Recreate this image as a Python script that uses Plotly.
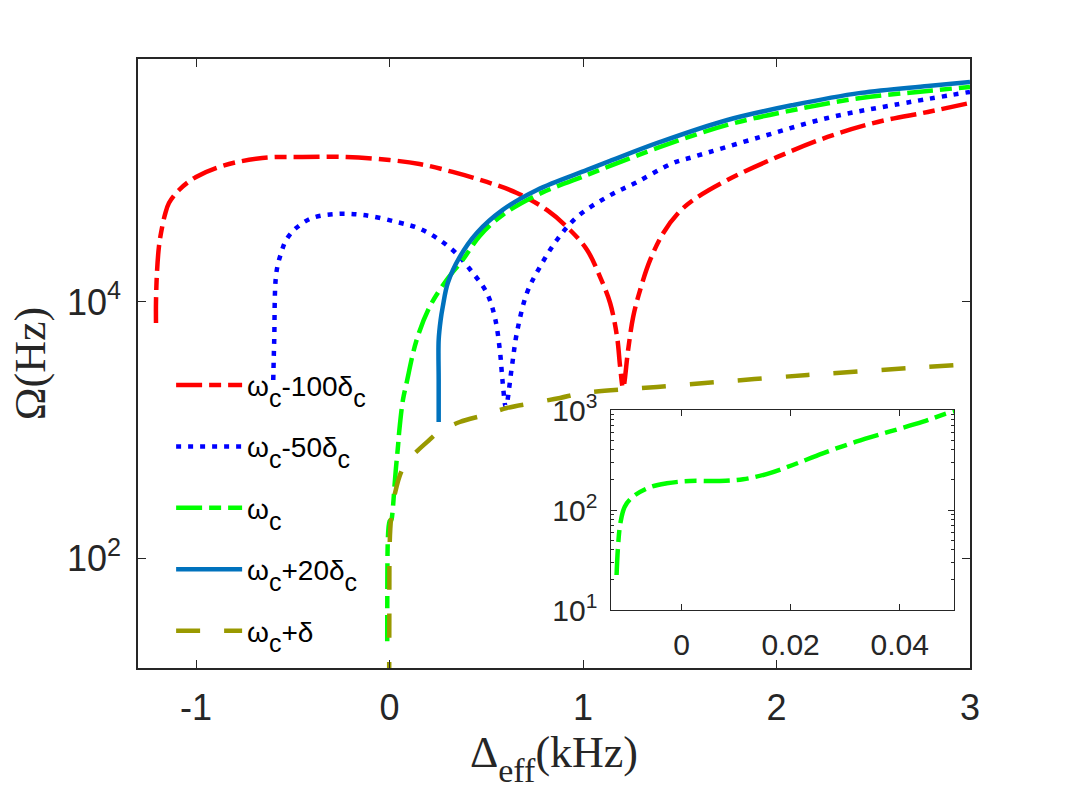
import plotly.graph_objects as go

# ---------------- data ----------------
red_x = [-1.207, -1.207, -1.202, -1.192, -1.181, -1.161, -1.140, -1.088, -1.000, -0.865, -0.658,
         -0.451, -0.223, 0.0, 0.155, 0.326, 0.503, 0.658, 0.813, 0.933, 1.021, 1.088, 1.140,
         1.176, 1.192, 1.207, 1.233, 1.259, 1.295, 1.347, 1.415, 1.492, 1.570, 1.746, 2.005,
         2.264, 2.523, 2.782, 3.0]
red_y = [6860, 10000, 16900, 26900, 34600, 47900, 59300, 75000, 94800, 115500, 133400,
         135900, 135900, 128500, 119700, 103700, 86600, 71100, 52400, 36500, 25500, 15700, 9820,
         5330, 3100, 2130, 4220, 7640, 12400, 21300, 34600, 49500, 62700, 89800, 135900,
         194500, 254800, 305000, 359000]

bdot_x = [-0.601, -0.596, -0.585, -0.560, -0.534, -0.482, -0.399, -0.275, -0.140, 0.036, 0.171,
          0.326, 0.430, 0.503, 0.544, 0.570, 0.585, 0.601, 0.632, 0.658, 0.710, 0.777, 0.865,
          0.969, 1.124, 1.280, 1.466, 1.570, 1.917, 2.264, 2.606, 3.0]
bdot_y = [2460, 5050, 16900, 24200, 30500, 37900, 45300, 48700, 47900, 42200, 36500,
          25500, 16900, 11750, 7640, 4220, 2330, 1515, 3100, 5730, 11750, 18750, 30500,
          46100, 66100, 86600, 121900, 135900, 194500, 273800, 346000, 437500]

green_x = [-0.0119, -0.0116, -0.0112, -0.0104, -0.0089, -0.0058, -0.0027, 0.0015, 0.0070, 0.0113,
           0.0156, 0.0204, 0.0259, 0.0320, 0.0381, 0.0443, 0.0497, 0.069, 0.088, 0.140, 0.207,
           0.295, 0.378, 0.466, 0.585, 0.762, 1.021, 1.140, 1.399, 1.746, 2.088, 2.435, 2.782, 3.0]
green_y = [22.4, 46, 74, 108, 136, 169, 185, 195, 195, 203,
           229, 282, 369, 482, 607, 764, 962, 1710, 2330, 5050, 9150,
           14850, 21300, 32800, 47900, 68500, 98200, 115500, 162600, 241500, 316000, 392500, 444700, 479000]

bsol_x = [0.254, 0.254, 0.254, 0.264, 0.275, 0.301, 0.363, 0.451, 0.585, 0.762, 1.021,
          1.140, 1.399, 1.746, 2.088, 2.435, 2.782, 3.0]
bsol_y = [1155, 2460, 5050, 7220, 9150, 14070, 22500, 34600, 52400, 75000, 107500,
          126400, 177800, 264000, 346000, 430000, 487000, 524000]

olive_x = [-0.002, -0.001, 0.0, 0.004, 0.012, 0.030, 0.060, 0.100, 0.145, 0.200, 0.249, 0.363,
           0.492, 0.606, 0.741, 0.881, 1.0, 1.383, 2.161, 2.927, 3.0]
olive_y = [10, 40, 110, 170, 230, 330, 470, 590, 690, 820, 950, 1155,
           1310, 1485, 1625, 1780, 1945, 2170, 2690, 3220, 3280]

SUB = "<sub><span style='font-size:25px;baseline-shift:-5px'>{}</span></sub>"
names = ["ω" + SUB.format("c") + "-100δ" + SUB.format("c"),
         "ω" + SUB.format("c") + "-50δ" + SUB.format("c"),
         "ω" + SUB.format("c"),
         "ω" + SUB.format("c") + "+20δ" + SUB.format("c"),
         "ω" + SUB.format("c") + "+δ"]
x_title = "Δ<sub><span style='font-size:34px;baseline-shift:-6px'>eff</span></sub>(kHz)"
y_title = "Ω(Hz)"

x_ticks = [-1, 0, 1, 2, 3]
x_ticktext = ["-1", "0", "1", "2", "3"]
y_ticks = [100, 10000]
y_ticktext = ["10<sup>2</sup>", "10<sup>4</sup>"]
ix_ticks = [0, 0.02, 0.04]
ix_ticktext = ["0", "0.02", "0.04"]
iy_ticks = [10, 100, 1000]
iy_ticktext = ["10<sup>1</sup>", "10<sup>2</sup>", "10<sup>3</sup>"]
iy_minor = [20, 30, 40, 50, 60, 70, 80, 90, 200, 300, 400, 500, 600, 700, 800, 900]

# ---------------- figure ----------------
W = 4.5
DASHDOT = "26px,7px,12px,7px"
SMOOTH = 1.0
fig = go.Figure()
series = [
    (red_x, red_y, names[0], "#FF0000", DASHDOT),
    (bdot_x, bdot_y, names[1], "#0000FF", "5px,7px"),
    (green_x, green_y, names[2], "#00FF00", DASHDOT),
    (bsol_x, bsol_y, names[3], "#0072BD", "solid"),
    (olive_x, olive_y, names[4], "#999900", "24px,24px"),
]
for i, (xs, ys, nm, col, dash) in enumerate(series):
    fig.add_trace(go.Scatter(x=xs, y=ys, name=nm, mode="lines",
                             line=dict(color=col, width=W, dash=dash, shape="spline", smoothing=SMOOTH),
                             legendgroup=f"g{i}", xaxis="x", yaxis="y"))

fig.add_trace(go.Scatter(x=green_x, y=green_y, mode="lines", showlegend=False,
                         line=dict(color="#00FF00", width=W, dash=DASHDOT, shape="spline", smoothing=SMOOTH),
                         xaxis="x2", yaxis="y2"))

axcol = "#262626"
tickfont = dict(family="Liberation Sans", size=36, color=axcol)
fig.update_layout(
    width=1073, height=798,
    margin=dict(l=138, r=103, t=59, b=130),
    paper_bgcolor="white", plot_bgcolor="white",
    xaxis=dict(domain=[0, 1], range=[-1.3, 3.0], tickvals=x_ticks, ticktext=x_ticktext,
               ticks="inside", ticklen=8, tickwidth=1.3, tickcolor=axcol, mirror="allticks",
               showline=True, linecolor=axcol, linewidth=1.5, showgrid=False, zeroline=False,
               tickfont=tickfont, ticklabelstandoff=7,
               title=dict(text=x_title, font=dict(family="Liberation Serif", size=44, color=axcol),
                          standoff=2)),
    yaxis=dict(domain=[0, 1], type="log", range=[1.141, 5.898], tickvals=y_ticks, ticktext=y_ticktext,
               ticks="inside", ticklen=8, tickwidth=1.3, tickcolor=axcol, mirror="allticks",
               showline=True, linecolor=axcol, linewidth=1.5, showgrid=False, zeroline=False,
               tickfont=tickfont, ticklabelstandoff=8,
               title=dict(text=y_title, font=dict(family="Liberation Serif", size=44, color=axcol),
                          standoff=8)),
    xaxis2=dict(domain=[0.568, 0.981], range=[-0.013, 0.05], anchor="y2", tickvals=ix_ticks,
                ticktext=ix_ticktext, ticks="inside", ticklen=6, tickcolor=axcol, mirror="allticks",
                showline=True, linecolor=axcol, linewidth=1.3, showgrid=False, zeroline=False,
                tickfont=dict(family="Liberation Sans", size=30, color=axcol), ticklabelstandoff=8),
    yaxis2=dict(domain=[0.0952, 0.4236], type="log", range=[1, 3], anchor="x2", tickvals=iy_ticks,
                ticktext=iy_ticktext, ticks="inside", ticklen=6, tickcolor=axcol, mirror="allticks",
                showline=True, linecolor=axcol, linewidth=1.3, showgrid=False, zeroline=False,
                minor=dict(tickvals=iy_minor, ticks="inside", ticklen=3, tickcolor=axcol, showgrid=False),
                tickfont=dict(family="Liberation Sans", size=30, color=axcol), ticklabelstandoff=6),
    legend=dict(x=0.0398, y=0.263, xanchor="left", yanchor="middle", bgcolor="rgba(0,0,0,0)",
                font=dict(family="Liberation Sans", size=28, color="black"),
                traceorder="grouped", tracegroupgap=22, itemwidth=66),
    showlegend=True,
)

fig.write_html("out.html")
